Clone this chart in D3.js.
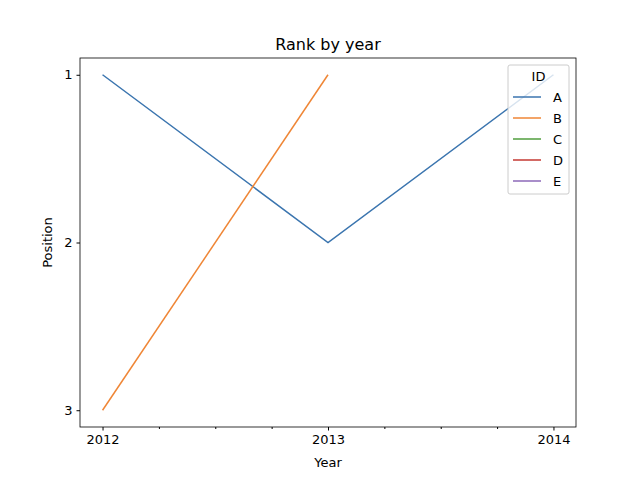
<!DOCTYPE html>
<html><head><script src="https://cdn.jsdelivr.net/npm/d3@7"></script>
<style>body{margin:0}text{font-family:"DejaVu Sans";}</style></head><body>
<script>
const years=[2012,2013,2014];
const ids=["A","B","C","D","E"];
const colors=["#3b75af","#ef8636","#519e3e","#c53932","#8d69b8"];
const seriesA=[1,2,1];
const seriesB=[3,1,null];
const seriesC=[null,null,null],seriesD=[null,null,null],seriesE=[null,null,null];
const allSeries=[seriesA,seriesB,seriesC,seriesD,seriesE];
const yTicks=[1,2,3];
const svg=d3.select("body").append("svg").attr("width",640).attr("height",480);
const L=80,R=576,T=58,B=427;
const x=d3.scaleLinear().domain([2011.9,2014.1]).range([L,R]);
const y=d3.scaleLinear().domain([0.9,3.1]).range([T,B]);
svg.append("text").attr("x",328).attr("y",50).attr("text-anchor","middle").attr("font-size",16).text("Rank by year");
svg.append("g").attr("transform",`translate(0,${B})`).call(d3.axisBottom(x).tickValues(years).tickFormat(d3.format("d")).tickSize(3.5).tickPadding(4).tickSizeOuter(0));
svg.append("g").attr("transform",`translate(0,${B})`).call(d3.axisBottom(x).tickValues(d3.range(2012,2014.01,0.25).filter(v=>!years.includes(v))).tickFormat("").tickSize(2).tickSizeOuter(0)).select(".domain").remove();
svg.append("g").attr("transform",`translate(${L},0)`).call(d3.axisLeft(y).tickValues(yTicks).tickFormat(d3.format("d")).tickSize(3.5).tickPadding(4).tickSizeOuter(0));
svg.selectAll(".tick text").attr("font-size",13).attr("fill","#000");
svg.selectAll(".domain").remove();
svg.append("rect").attr("x",L).attr("y",T).attr("width",R-L).attr("height",B-T).attr("fill","none").attr("stroke","#000").attr("stroke-width",0.8);
svg.append("text").attr("x",328).attr("y",467).attr("text-anchor","middle").attr("font-size",13).text("Year");
svg.append("text").attr("transform",`translate(52,${(T+B)/2}) rotate(-90)`).attr("text-anchor","middle").attr("font-size",13).text("Position");
const line=d3.line().defined(d=>d[1]!=null).x(d=>x(d[0])).y(d=>y(d[1]));
allSeries.forEach((s,i)=>{svg.append("path").attr("d",line(years.map((yr,j)=>[yr,s[j]]))).attr("fill","none").attr("stroke",colors[i]).attr("stroke-width",1.5);});
const lg=svg.append("g");
lg.append("rect").attr("x",508).attr("y",65).attr("width",61).attr("height",129).attr("rx",2).attr("fill","#fff").attr("fill-opacity",0.8).attr("stroke","#ccc");
lg.append("text").attr("x",538.5).attr("y",81).attr("text-anchor","middle").attr("font-size",13).text("ID");
ids.forEach((id,i)=>{const yy=97+i*21;
lg.append("line").attr("x1",513).attr("x2",541).attr("y1",yy).attr("y2",yy).attr("stroke",colors[i]).attr("stroke-width",1.5);
lg.append("text").attr("x",553).attr("y",yy+4.5).attr("font-size",13).text(id);});
</script></body></html>
